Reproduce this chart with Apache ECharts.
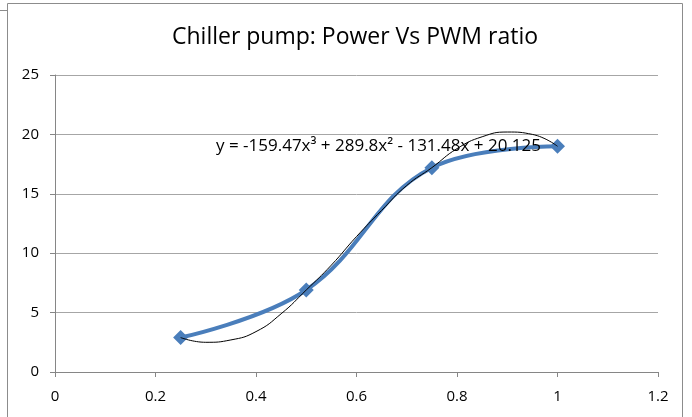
<!DOCTYPE html>
<html>
<head>
<meta charset="utf-8">
<script src="https://cdn.jsdelivr.net/npm/echarts@6/dist/echarts.min.js"></script>
<style>
html, body { margin: 0; padding: 0; background: #fff; }
#chart { width: 692px; height: 417px; }
</style>
</head>
<body>
<div id="chart"></div>
<script>
// data
var pwmRatio = [0.25, 0.5, 0.75, 1];
var power = [2.9, 6.9, 17.2, 19.0];
// poly trendline, points
var trendX = [0.25, 0.3, 0.35, 0.4, 0.45, 0.5, 0.55, 0.6, 0.65, 0.7, 0.75, 0.8, 0.85, 0.9, 0.95, 1];
var trendY = [2.9, 2.5, 2.7, 3.4, 4.9, 6.9, 9.0, 11.4, 13.6, 15.7, 17.2, 18.8, 19.8, 20.2, 20.0, 19.0];
var xTicks = [0, 0.2, 0.4, 0.6, 0.8, 1, 1.2];
var yTicks = [0, 5, 10, 15, 20, 25];
var equation = 'y = -159.47x³ + 289.8x² - 131.48x + 20.125';

var font = 'Open Sans';
var myChart = echarts.init(document.getElementById('chart'));
myChart.setOption({
    animation: false,
    title: {
        text: 'Chiller pump: Power Vs PWM ratio',
        left: 350, top: 21, textAlign: 'center',
        textStyle: { fontFamily: font, fontSize: 23, fontWeight: 'normal', color: '#000' }
    },
    grid: { left: 55, right: 34, top: 75, bottom: 45, containLabel: false },
    xAxis: {
        type: 'value',
        min: xTicks[0], max: xTicks[xTicks.length - 1], interval: 0.2,
        axisLine: { lineStyle: { color: '#868686' } },
        axisTick: { show: true, length: 5, lineStyle: { color: '#868686' } },
        axisLabel: { color: '#000', fontFamily: font, fontSize: 15, margin: 17 },
        splitLine: { show: false }
    },
    yAxis: {
        type: 'value',
        min: yTicks[0], max: yTicks[yTicks.length - 1], interval: 5,
        axisLine: { show: true, lineStyle: { color: '#868686' } },
        axisTick: { show: true, length: 5, lineStyle: { color: '#868686' } },
        axisLabel: { color: '#000', fontFamily: font, fontSize: 15, margin: 16 },
        splitLine: { lineStyle: { color: '#a6a6a6' } }
    },
    graphic: [
        { type: 'rect', shape: { x: 7.5, y: 3.5, width: 675, height: 420 },
          style: { fill: 'none', stroke: '#8c8c8c', lineWidth: 1 } },
        { type: 'line', shape: { x1: 0, y1: 10.5, x2: 7, y2: 10.5 },
          style: { stroke: '#8c8c8c', lineWidth: 1 } },
        { type: 'text', left: 216, top: 138, z: 10,
          style: { text: equation, fill: '#000', font: '17px "' + font + '"' } }
    ],
    series: [
        {
            type: 'line',
            data: pwmRatio.map(function (x, i) { return [x, power[i]]; }),
            smooth: 0.4,
            symbol: 'diamond',
            symbolSize: 15,
            lineStyle: { color: '#4a7ebb', width: 4 },
            itemStyle: { color: '#4a7ebb' },
            z: 3
        },
        {
            type: 'line',
            data: trendX.map(function (x, i) { return [x, trendY[i]]; }),
            smooth: true,
            symbol: 'none',
            lineStyle: { color: '#000', width: 1 },
            z: 4
        }
    ]
});
</script>
</body>
</html>
